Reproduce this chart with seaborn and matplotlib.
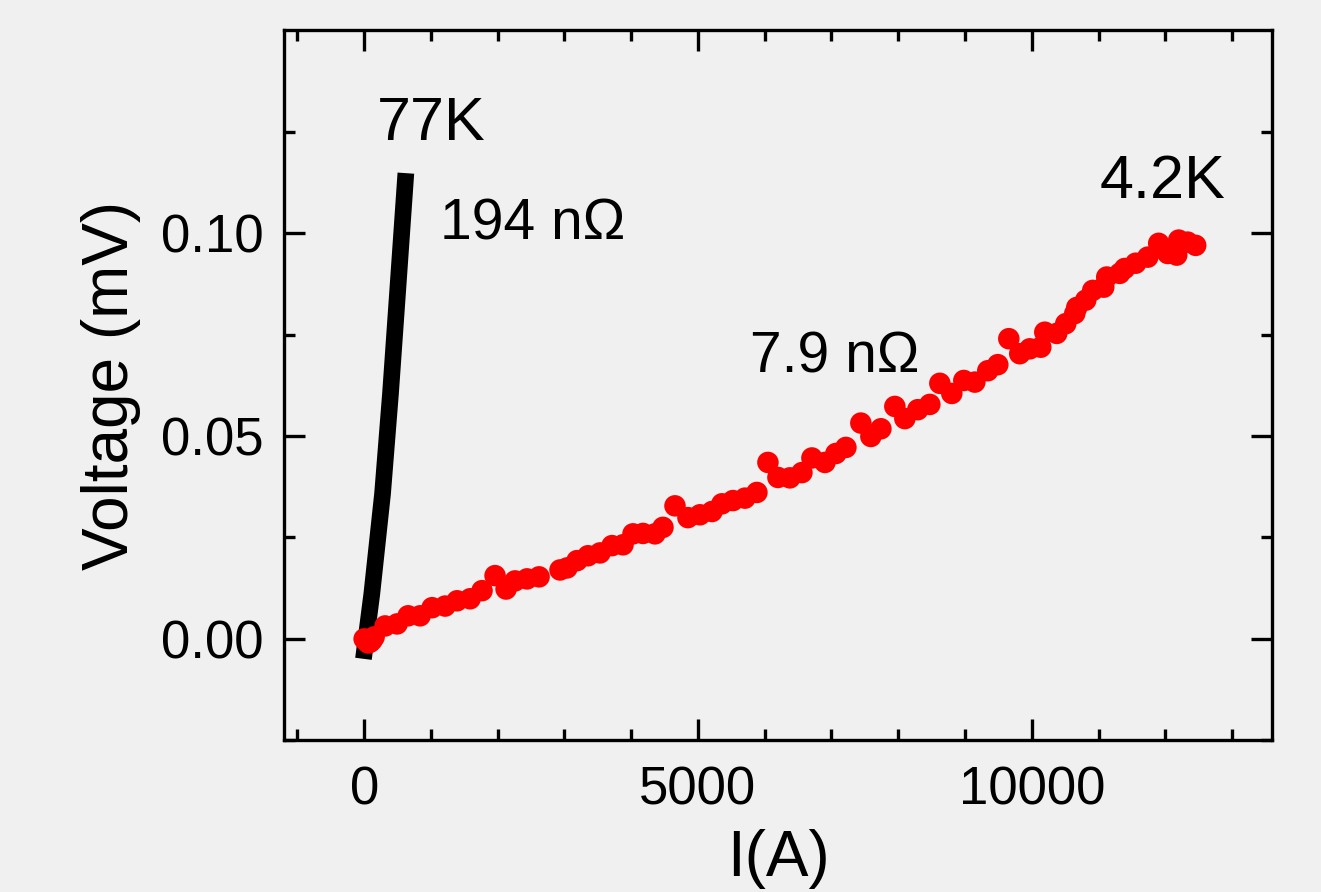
import numpy as np
import pandas as pd
import matplotlib
matplotlib.use("Agg")
import matplotlib.pyplot as plt
import seaborn as sns
from matplotlib.ticker import FixedLocator, FormatStrFormatter

# ---- data ----
i_77k = [-10, 115, 276, 395, 500, 625]
v_77k = [-0.0049, 0.0111, 0.0358, 0.0605, 0.0852, 0.1148]

i_42k = [0, 30, 60, 90, 120, 150, 314, 494, 659, 838, 1018, 1213, 1392, 1587, 1766,
         1961, 2126, 2260, 2440, 2620, 2934, 3039, 3189, 3353, 3533, 3713, 3877,
         4027, 4177, 4356, 4476, 4656, 4850, 5030, 5210, 5359, 5524, 5704, 5883,
         6048, 6198, 6377, 6557, 6707, 6902, 7066, 7216, 7440, 7590, 7740, 7949,
         8099, 8293, 8473, 8623, 8802, 8982, 9147, 9341, 9491, 9656, 9820, 9970,
         10135, 10195, 10374, 10509, 10644, 10674, 10808, 10913, 11078, 11123,
         11317, 11392, 11557, 11737, 11901, 12036, 12171, 12201, 12335, 12455]
v_42k = [0.0000, -0.0005, -0.0010, -0.0008, -0.0003, 0.0005, 0.0032, 0.0037, 0.0057,
         0.0057, 0.0077, 0.0081, 0.0094, 0.0099, 0.0119, 0.0156, 0.0123, 0.0143,
         0.0148, 0.0153, 0.0170, 0.0175, 0.0193, 0.0205, 0.0212, 0.0230, 0.0232,
         0.0259, 0.0260, 0.0259, 0.0275, 0.0328, 0.0299, 0.0306, 0.0314, 0.0333,
         0.0341, 0.0347, 0.0361, 0.0435, 0.0398, 0.0397, 0.0410, 0.0446, 0.0435,
         0.0457, 0.0472, 0.0532, 0.0499, 0.0518, 0.0573, 0.0543, 0.0565, 0.0578,
         0.0630, 0.0605, 0.0637, 0.0633, 0.0661, 0.0676, 0.0740, 0.0703, 0.0715,
         0.0719, 0.0756, 0.0753, 0.0777, 0.0802, 0.0817, 0.0835, 0.0859, 0.0867,
         0.0892, 0.0901, 0.0913, 0.0926, 0.0941, 0.0975, 0.0950, 0.0946, 0.0983,
         0.0978, 0.0970]

x_major = [0, 5000, 10000]
x_minor = list(range(-1000, 14000, 1000))
y_major = [0.00, 0.05, 0.10]
y_minor = [-0.025, 0.025, 0.075, 0.125]

labels = [("77K", 195, 0.123, 44), ("194 n\u03a9", 1138, 0.0985, 41),
          ("7.9 n\u03a9", 5778, 0.0657, 41), ("4.2K", 11018, 0.1086, 44)]

# ---- style ----
sns.set_theme(style="ticks")
bg = "#f0f0f0"
plt.rcParams["font.family"] = ["Liberation Sans", "DejaVu Sans"]
for k in ["text.color", "axes.labelcolor", "xtick.color", "ytick.color",
          "xtick.labelcolor", "ytick.labelcolor"]:
    plt.rcParams[k] = "black"

fig = plt.figure(figsize=(13.21, 8.92), dpi=100, facecolor=bg)
ax = fig.add_axes([0.215, 0.170, 0.748, 0.796])
ax.set_facecolor(bg)

df77 = pd.DataFrame({"I": i_77k, "V": v_77k})
df42 = pd.DataFrame({"I": i_42k, "V": v_42k})

sns.lineplot(data=df77, x="I", y="V", ax=ax, color="black", linewidth=12,
             sort=False, estimator=None)
for l in ax.get_lines():
    l.set_solid_capstyle("butt")
    l.set_solid_joinstyle("round")
    l.set_linewidth(12)
sns.scatterplot(data=df42, x="I", y="V", ax=ax, color="red", s=240,
                edgecolor="none", linewidth=0, zorder=3)

ax.set_xlim(-1200, 13600)
ax.set_ylim(-0.025, 0.15)

ax.xaxis.set_major_locator(FixedLocator(x_major))
ax.xaxis.set_minor_locator(FixedLocator(x_minor))
ax.yaxis.set_major_locator(FixedLocator(y_major))
ax.yaxis.set_minor_locator(FixedLocator(y_minor))
ax.yaxis.set_major_formatter(FormatStrFormatter("%.2f"))

ax.tick_params(which="both", direction="in", top=True, right=True,
               color="black", labelcolor="black", width=2.4)
ax.tick_params(which="major", length=15, pad=15, labelsize=38)
ax.tick_params(axis="x", which="major", pad=18)
ax.tick_params(which="minor", length=8)

for sp in ax.spines.values():
    sp.set_visible(True)
    sp.set_linewidth(2.4)
    sp.set_color("black")

ax.set_xlabel("I(A)", fontsize=46, labelpad=10, color="black")
ax.set_ylabel("Voltage (mV)", fontsize=46, labelpad=14, color="black")

for txt, x, y, fs in labels:
    ax.text(x, y, txt, fontsize=fs, ha="left", va="baseline", color="black")

fig.savefig("out.png", dpi=100, facecolor=bg)
